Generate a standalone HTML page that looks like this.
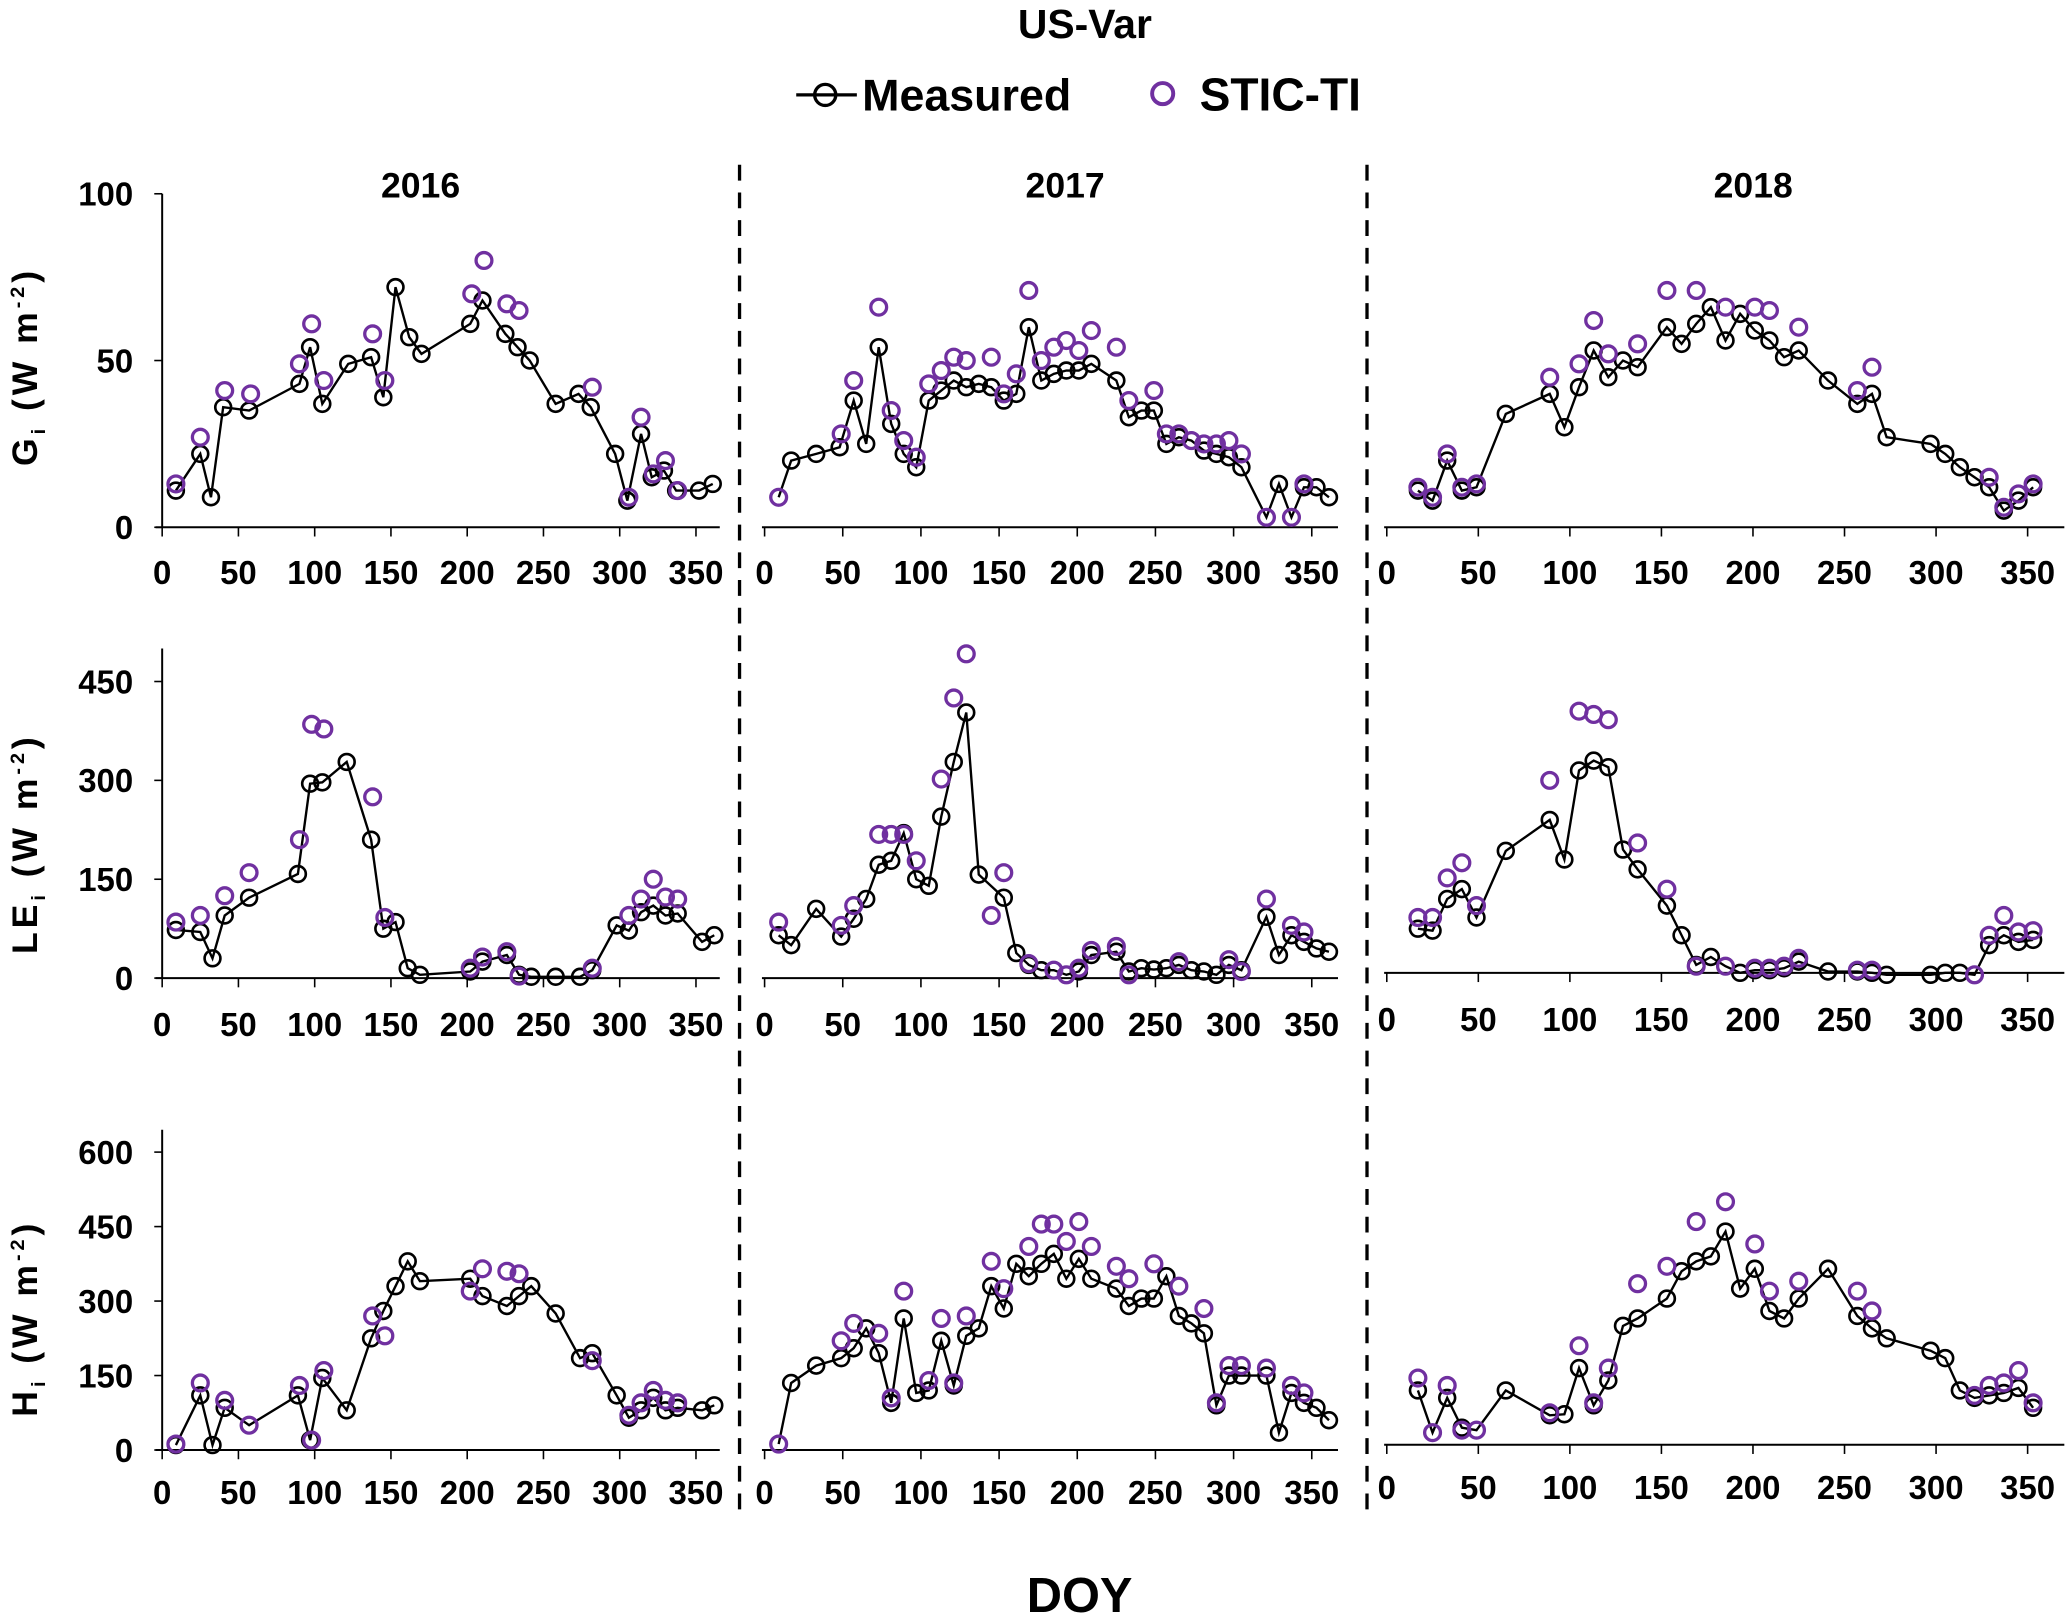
<!DOCTYPE html>
<html><head><meta charset="utf-8"><style>
html,body{margin:0;padding:0;background:#fff}
svg{display:block;font-family:"Liberation Sans",Arial,sans-serif;font-weight:bold}
</style></head><body>
<svg id="c" width="2067" height="1614" viewBox="0 0 1568 1224.4" xmlns="http://www.w3.org/2000/svg">
<text x="823" y="29" text-anchor="middle" font-size="31">US-Var</text>
<g>
<line x1="604" y1="72" x2="650" y2="72" stroke="#000" stroke-width="2.5"/>
<circle cx="626" cy="72" r="8" fill="none" stroke="#000" stroke-width="2.5"/>
<text x="654" y="84" font-size="34">Measured</text>
<circle cx="882" cy="71" r="8" fill="none" stroke="#7030A0" stroke-width="3"/>
<text x="910" y="84" font-size="35">STIC-TI</text>
</g>
<line x1="561" y1="125" x2="561" y2="1148" stroke="#000" stroke-width="2.5" stroke-dasharray="12,9"/>
<line x1="1037" y1="125" x2="1037" y2="1148" stroke="#000" stroke-width="2.5" stroke-dasharray="12,9"/>
<text x="319" y="150" text-anchor="middle" font-size="27">2016</text>
<text x="808" y="150" text-anchor="middle" font-size="27">2017</text>
<text x="1330" y="150" text-anchor="middle" font-size="27">2018</text>
<text transform="translate(28,278) rotate(-90)" text-anchor="middle" font-size="27" letter-spacing="3">G<tspan font-size="15" dy="6">i</tspan><tspan dy="-6"> (W m</tspan><tspan font-size="15" dy="-10">-2</tspan><tspan dy="10">)</tspan></text>
<text transform="translate(28,640) rotate(-90)" text-anchor="middle" font-size="27" letter-spacing="3">LE<tspan font-size="15" dy="6">i</tspan><tspan dy="-6"> (W m</tspan><tspan font-size="15" dy="-10">-2</tspan><tspan dy="10">)</tspan></text>
<text transform="translate(28,1000) rotate(-90)" text-anchor="middle" font-size="27" letter-spacing="3">H<tspan font-size="15" dy="6">i</tspan><tspan dy="-6"> (W m</tspan><tspan font-size="15" dy="-10">-2</tspan><tspan dy="10">)</tspan></text>
<text x="819" y="1223" text-anchor="middle" font-size="37">DOY</text>
<g id="plots"></g>
</svg>
<script>
const xTicks=[0,50,100,150,200,250,300,350];
const gTicks=[0,50,100], leTicks=[0,150,300,450], hTicks=[0,150,300,450,600];
const g16m=[[9,11],[25,22],[32,9],[40,36],[57,35],[90,43],[97,54],[105,37],[122,49],[137,51],[145,39],[153,72],[162,57],[170,52],[202,61],[210,68],[225,58],[233,54],[241,50],[258,37],[273,40],[281,36],[297,22],[305,8],[314,28],[321,15],[329,17],[337,11],[352,11],[361,13]];
const g16s=[[9,13],[25,27],[41,41],[58,40],[90,49],[98,61],[106,44],[138,58],[146,44],[203,70],[211,80],[226,67],[234,65],[282,42],[306,9],[314,33],[322,16],[330,20],[338,11]];
const g17m=[[9,9],[17,20],[33,22],[48,24],[57,38],[65,25],[73,54],[81,31],[89,22],[97,18],[105,38],[113,41],[121,44],[129,42],[137,43],[145,42],[153,38],[161,40],[169,60],[177,44],[185,46],[193,47],[201,47],[209,49],[225,44],[233,33],[241,35],[249,35],[257,25],[265,27],[273,26],[281,23],[289,22],[297,21],[305,18],[321,3],[329,13],[337,3],[345,12],[353,12],[361,9]];
const g17s=[[9,9],[49,28],[57,44],[73,66],[81,35],[89,26],[97,21],[105,43],[113,47],[121,51],[129,50],[145,51],[153,40],[161,46],[169,71],[177,50],[185,54],[193,56],[201,53],[209,59],[225,54],[233,38],[249,41],[257,28],[265,28],[273,26],[281,25],[289,25],[297,26],[305,22],[321,3],[337,3],[345,13]];
const g18m=[[17,11],[25,8],[33,20],[41,11],[49,12],[65,34],[89,40],[97,30],[105,42],[113,53],[121,45],[129,50],[137,48],[153,60],[161,55],[169,61],[177,66],[185,56],[193,64],[201,59],[209,56],[217,51],[225,53],[241,44],[257,37],[265,40],[273,27],[297,25],[305,22],[313,18],[321,15],[329,12],[337,5],[345,8],[353,12]];
const g18s=[[17,12],[25,9],[33,22],[41,12],[49,13],[89,45],[105,49],[113,62],[121,52],[137,55],[153,71],[169,71],[185,66],[201,66],[209,65],[225,60],[257,41],[265,48],[329,15],[337,6],[345,10],[353,13]];
const le16m=[[9,73],[25,70],[33,30],[41,95],[57,122],[89,158],[97,295],[105,297],[121,328],[137,210],[145,75],[153,85],[161,15],[169,5],[202,10],[210,25],[226,35],[234,5],[242,2],[258,2],[274,2],[282,12],[298,80],[306,72],[314,100],[322,110],[330,95],[338,98],[354,55],[362,65]];
const le16s=[[9,85],[25,95],[41,125],[57,160],[90,210],[98,385],[106,378],[138,275],[146,92],[202,15],[210,32],[226,40],[234,3],[282,15],[306,95],[314,120],[322,150],[330,123],[338,120]];
const le17m=[[9,65],[17,50],[33,105],[49,63],[57,90],[65,120],[73,172],[81,178],[89,220],[97,150],[105,140],[113,245],[121,328],[129,403],[137,157],[153,122],[161,38],[169,20],[177,12],[185,12],[193,5],[201,10],[209,35],[225,40],[233,10],[241,15],[249,13],[257,15],[265,20],[273,12],[281,10],[289,5],[297,20],[305,12],[321,93],[329,35],[337,65],[345,55],[353,45],[361,40]];
const le17s=[[9,85],[49,80],[57,110],[73,218],[81,218],[89,218],[97,178],[113,302],[121,425],[129,492],[145,95],[153,160],[169,22],[185,12],[193,5],[201,15],[209,42],[225,48],[233,5],[265,25],[297,28],[305,10],[321,120],[337,80],[345,70]];
const le18m=[[17,75],[25,72],[33,120],[41,135],[49,92],[65,193],[89,240],[97,180],[105,315],[113,330],[121,320],[129,195],[137,165],[153,110],[161,65],[169,20],[177,32],[185,18],[193,8],[201,12],[209,12],[217,15],[225,25],[241,10],[257,10],[265,8],[273,5],[297,5],[305,8],[313,8],[321,5],[329,50],[337,65],[345,55],[353,58]];
const le18s=[[17,92],[25,92],[33,152],[41,175],[49,110],[89,300],[105,405],[113,400],[121,392],[137,205],[153,135],[169,18],[185,18],[201,15],[209,15],[217,18],[225,30],[257,12],[265,12],[321,5],[329,65],[337,95],[345,70],[353,72]];
const h16m=[[9,10],[25,110],[33,10],[41,85],[57,50],[89,110],[97,20],[105,145],[121,80],[137,225],[145,280],[153,330],[161,380],[169,340],[202,345],[210,310],[226,290],[234,310],[242,330],[258,275],[274,185],[282,195],[298,110],[306,65],[314,80],[322,105],[330,80],[338,85],[354,80],[362,90]];
const h16s=[[9,12],[25,135],[41,100],[57,50],[90,130],[98,20],[106,160],[138,270],[146,230],[202,320],[210,365],[226,360],[234,355],[282,180],[306,70],[314,95],[322,120],[330,100],[338,95]];
const h17m=[[9,12],[17,135],[33,170],[49,185],[57,205],[65,245],[73,195],[81,95],[89,265],[97,115],[105,120],[113,220],[121,130],[129,230],[137,245],[145,330],[153,285],[161,375],[169,350],[177,375],[185,395],[193,345],[201,385],[209,345],[225,325],[233,290],[241,305],[249,305],[257,350],[265,270],[273,255],[281,235],[289,90],[297,150],[305,150],[321,150],[329,35],[337,115],[345,95],[353,85],[361,60]];
const h17s=[[9,12],[49,220],[57,255],[73,235],[81,105],[89,320],[105,140],[113,265],[121,135],[129,270],[145,380],[153,325],[169,410],[177,455],[185,455],[193,420],[201,460],[209,410],[225,370],[233,345],[249,375],[265,330],[281,285],[289,95],[297,170],[305,170],[321,165],[337,130],[345,115]];
const h18m=[[17,120],[25,35],[33,105],[41,45],[49,40],[65,120],[89,70],[97,72],[105,165],[113,90],[121,140],[129,250],[137,265],[153,305],[161,360],[169,380],[177,390],[185,440],[193,325],[201,365],[209,280],[217,265],[225,305],[241,365],[257,270],[265,245],[273,225],[297,200],[305,185],[313,120],[321,105],[329,110],[337,115],[345,125],[353,85]];
const h18s=[[17,145],[25,35],[33,130],[41,40],[49,40],[89,75],[105,210],[113,95],[121,165],[137,335],[153,370],[169,460],[185,500],[201,415],[209,320],[225,340],[257,320],[265,280],[321,110],[329,130],[337,135],[345,160],[353,95]];

const NS='http://www.w3.org/2000/svg';
const root=document.getElementById('plots');
function mk(tag,attrs,parent){const e=document.createElementNS(NS,tag);for(const k in attrs)e.setAttribute(k,attrs[k]);(parent||root).appendChild(e);return e;}
const cols=[{x0:123,k:1.157,a:118,b:546,yr:'2016'},{x0:580,k:1.186,a:578,b:1015,yr:'2017'},{x0:1052,k:1.389,a:1050,b:1566,yr:'2018'}];
const rows=[{y0:400,top:147,ticks:gTicks,lab:443,id:'g',d:[[g16m,g16s],[g17m,g17s],[g18m,g18s]]},
 {y0:742,top:492,ticks:leTicks,lab:786,id:'le',d:[[le16m,le16s],[le17m,le17s],[le18m,le18s]]},
 {y0:1100,top:857,ticks:hTicks,lab:1141,id:'h',d:[[h16m,h16s],[h17m,h17s],[h18m,h18s]]}];
const topVal=[100,450,600], topPix=[147,517,874];
rows.forEach((r,ri)=>{
 const ky=(r.y0-topPix[ri])/topVal[ri];
 cols.forEach((c,ci)=>{
  const off=(ci==2&&ri>0)?-4:0;
  const y0=r.y0;
  const yb=r.y0+off;
  const X=v=>c.x0+c.k*v, Y=v=>y0-ky*v;
  const g=mk('g',{});
  
  
  const ax=mk('line',{x1:c.a,y1:yb,x2:c.b,y2:yb,stroke:'#000','stroke-width':1.5},g);
  
  
  xTicks.forEach(t=>{
   mk('line',{x1:X(t),y1:yb,x2:X(t),y2:yb+7,stroke:'#000','stroke-width':1.2},g);
   const tx=mk('text',{x:X(t),y:r.lab+off,'text-anchor':'middle','font-size':25},g);
   tx.textContent=t;
   
   
  });
  if(ci==0){
   const ya=mk('line',{x1:c.x0,y1:r.top,x2:c.x0,y2:y0,stroke:'#000','stroke-width':1.5},g);
   
   
   r.ticks.forEach(t=>{
    mk('line',{x1:c.x0-6,y1:Y(t),x2:c.x0,y2:Y(t),stroke:'#000','stroke-width':1.2},g);
    const tx=mk('text',{x:101,y:Y(t)+9,'text-anchor':'end','font-size':25},g);
    tx.textContent=t;
    
    
   });
  }
  const [m,s]=r.d[ci];
  const pl=mk('polyline',{points:m.map(p=>X(p[0])+','+Y(p[1])).join(' '),fill:'none',stroke:'#000','stroke-width':1.8},g);
  
  
  m.forEach(p=>{
   const ci2=mk('circle',{cx:X(p[0]),cy:Y(p[1]),r:6,fill:'none',stroke:'#000','stroke-width':2},g);
   
   
  });
  s.forEach(p=>{
   const ci2=mk('circle',{cx:X(p[0]),cy:Y(p[1]),r:6,fill:'none',stroke:'#7030A0','stroke-width':2.5},g);
   
   
  });
 });
});
</script>
</body></html>
